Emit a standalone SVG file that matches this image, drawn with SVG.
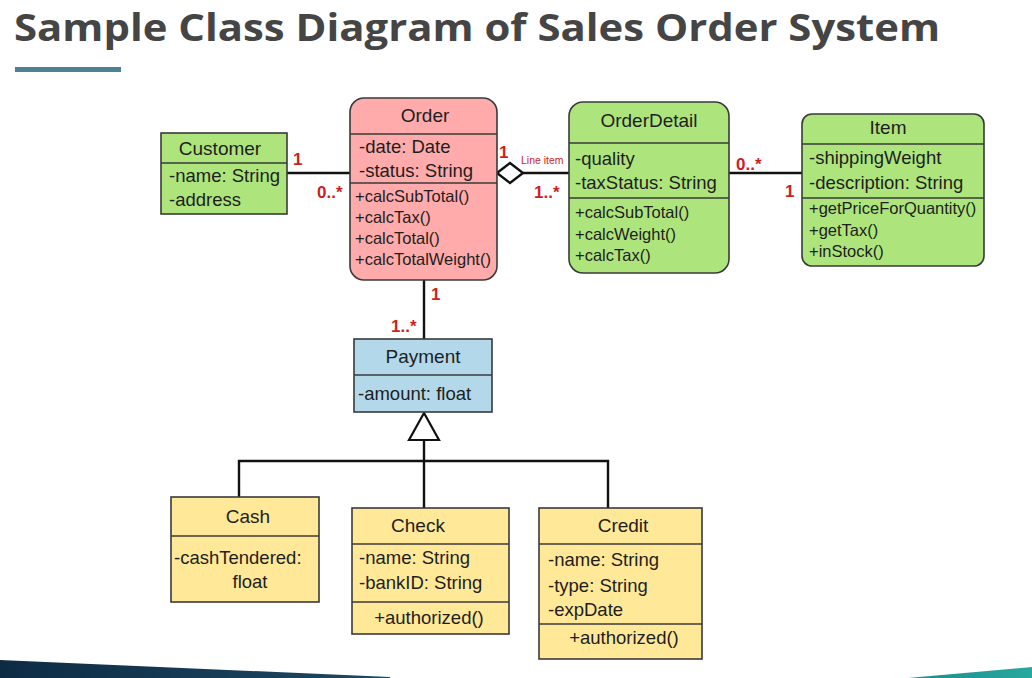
<svg xmlns="http://www.w3.org/2000/svg" width="1032" height="678" viewBox="0 0 1032 678">
<style>
.box{stroke:#3a3a3a;stroke-width:1.6}
.div{stroke:#3a3a3a;stroke-width:1.6}
.g{fill:#ade57c}.p{fill:#ffaaab}.b{fill:#b2d8ea}.y{fill:#ffe897}
text{font-family:"Liberation Sans",Arial,sans-serif;fill:#1e1e1e}
.h{font-size:19px;text-anchor:middle}
.a{font-size:18.5px}
.m{font-size:16.5px}
.r{fill:#cc1f1f;font-weight:bold;font-size:17px}
.conn{stroke:#111;stroke-width:2.4;fill:none}
</style>
<defs>
<linearGradient id="nav" x1="0" y1="0" x2="1" y2="0">
<stop offset="0" stop-color="#0e2b44"/><stop offset="1" stop-color="#1d4a64"/>
</linearGradient>
<linearGradient id="tea" x1="0" y1="0" x2="1" y2="0">
<stop offset="0" stop-color="#1c8c8c"/><stop offset="1" stop-color="#27a89f"/>
</linearGradient>
</defs>
<rect width="1032" height="678" fill="#fff"/>
<text x="14" y="41" style="font-family:'Open Sans','Liberation Sans',sans-serif;font-weight:bold;font-size:37px;fill:#454545" textLength="926" lengthAdjust="spacingAndGlyphs">Sample Class Diagram of Sales Order System</text>
<rect x="15" y="67" width="106" height="5" fill="#4b8190"/>
<polygon points="0,660 390,677 390,678 0,678" fill="url(#nav)"/>
<polygon points="908,678 1032,667 1032,678" fill="url(#tea)"/>

<g id="connectors">
<line class="conn" x1="287" y1="173" x2="350" y2="173"/>
<line class="conn" x1="523" y1="173" x2="569" y2="173"/>
<polygon points="497,173 510,163 523,173 510,183" fill="#fff" stroke="#111" stroke-width="2.4"/>
<line class="conn" x1="729" y1="173" x2="802" y2="173"/>
<line class="conn" x1="424" y1="280" x2="424" y2="339"/>
<polygon points="424,413 409,440 439,440" fill="#fff" stroke="#111" stroke-width="2.2"/>
<polyline class="conn" points="424,440 424,508"/>
<polyline class="conn" points="239,497 239,461 608,461 608,508"/>
<text class="r" x="293" y="165">1</text>
<text class="r" x="317" y="198">0..*</text>
<text class="r" x="499" y="158">1</text>
<text x="521" y="164" style="fill:#cc1f1f;font-size:10.5px">Line item</text>
<text class="r" x="534" y="198">1..*</text>
<text class="r" x="736" y="170">0..*</text>
<text class="r" x="785" y="197">1</text>
<text class="r" x="431" y="300">1</text>
<text class="r" x="391" y="332">1..*</text>
</g>

<g id="customer">
<rect class="box g" x="161" y="133" width="126" height="81"/>
<line class="div" x1="161" y1="163" x2="287" y2="163"/>
<text class="h" x="220" y="155">Customer</text>
<text class="a" x="169" y="182">-name: String</text>
<text class="a" x="169" y="206">-address</text>
</g>

<g id="order">
<rect class="box p" x="350" y="98" width="147" height="182" rx="14"/>
<line class="div" x1="350" y1="134" x2="497" y2="134"/>
<line class="div" x1="350" y1="183" x2="497" y2="183"/>
<text class="h" x="425" y="122">Order</text>
<text class="a" x="359" y="153">-date: Date</text>
<text class="a" x="359" y="177">-status: String</text>
<text class="m" x="355" y="202">+calcSubTotal()</text>
<text class="m" x="355" y="223">+calcTax()</text>
<text class="m" x="355" y="244">+calcTotal()</text>
<text class="m" x="355" y="265">+calcTotalWeight()</text>
</g>

<g id="orderdetail">
<rect class="box g" x="569" y="102" width="160" height="171" rx="14"/>
<line class="div" x1="569" y1="143" x2="729" y2="143"/>
<line class="div" x1="569" y1="198" x2="729" y2="198"/>
<text class="h" x="649" y="127">OrderDetail</text>
<text class="a" x="575" y="165">-quality</text>
<text class="a" x="575" y="189">-taxStatus: String</text>
<text class="m" x="575" y="218">+calcSubTotal()</text>
<text class="m" x="575" y="240">+calcWeight()</text>
<text class="m" x="575" y="261">+calcTax()</text>
</g>

<g id="item">
<rect class="box g" x="802" y="114" width="182" height="152" rx="10"/>
<line class="div" x1="802" y1="144" x2="984" y2="144"/>
<line class="div" x1="802" y1="198" x2="984" y2="198"/>
<text class="h" x="888" y="134">Item</text>
<text class="a" x="809" y="164">-shippingWeight</text>
<text class="a" x="809" y="189">-description: String</text>
<text class="m" x="809" y="214">+getPriceForQuantity()</text>
<text class="m" x="809" y="236">+getTax()</text>
<text class="m" x="809" y="257">+inStock()</text>
</g>

<g id="payment">
<rect class="box b" x="354" y="339" width="138" height="73"/>
<line class="div" x1="354" y1="375" x2="492" y2="375"/>
<text class="h" x="423" y="363">Payment</text>
<text class="a" x="358" y="400">-amount: float</text>
</g>

<g id="cash">
<rect class="box y" x="171" y="497" width="148" height="105"/>
<line class="div" x1="171" y1="536" x2="319" y2="536"/>
<text class="h" x="248" y="523">Cash</text>
<text class="a" x="174" y="564">-cashTendered:</text>
<text class="a" x="250" y="588" text-anchor="middle">float</text>
</g>

<g id="check">
<rect class="box y" x="352" y="508" width="157" height="126"/>
<line class="div" x1="352" y1="544" x2="509" y2="544"/>
<line class="div" x1="352" y1="602" x2="509" y2="602"/>
<text class="h" x="418" y="532">Check</text>
<text class="a" x="359" y="564">-name: String</text>
<text class="a" x="359" y="589">-bankID: String</text>
<text class="a" x="429" y="624" text-anchor="middle">+authorized()</text>
</g>

<g id="credit">
<rect class="box y" x="539" y="508" width="163" height="151"/>
<line class="div" x1="539" y1="544" x2="702" y2="544"/>
<line class="div" x1="539" y1="624" x2="702" y2="624"/>
<text class="h" x="623" y="532">Credit</text>
<text class="a" x="548" y="566">-name: String</text>
<text class="a" x="548" y="592">-type: String</text>
<text class="a" x="548" y="616">-expDate</text>
<text class="a" x="624" y="644" text-anchor="middle">+authorized()</text>
</g>
</svg>
